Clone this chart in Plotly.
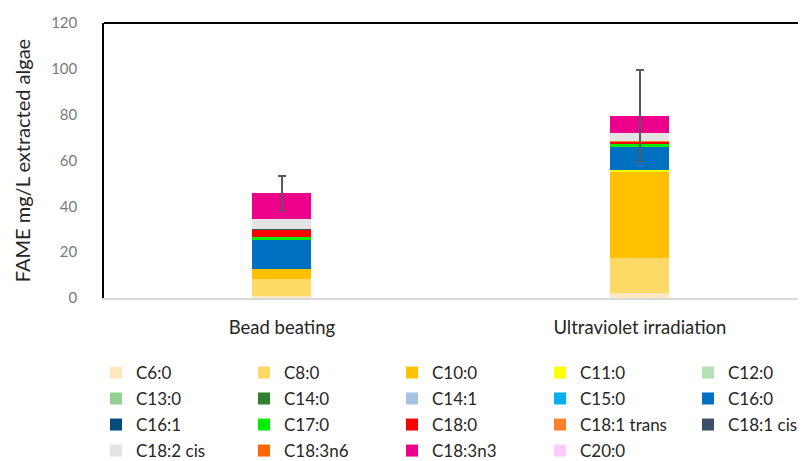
import plotly.graph_objects as go

categories = ["Bead beating", "Ultraviolet irradiation"]
fatty_acids = ["C6:0", "C8:0", "C10:0", "C11:0", "C12:0", "C13:0", "C14:0", "C14:1",
               "C15:0", "C16:0", "C16:1", "C17:0", "C18:0", "C18:1 trans", "C18:1 cis",
               "C18:2 cis", "C18:3n6", "C18:3n3", "C20:0"]
bead_beating = [0.8, 7.6, 4.1, 0.0, 0.0, 0.0, 0.0, 0.0,
                0.0, 12.8, 0.0, 1.5, 3.3, 0.0, 0.2,
                4.0, 0.0, 11.4, 0.0]
ultraviolet = [2.0, 15.4, 37.7, 0.9, 0.0, 0.0, 0.0, 0.0,
               0.0, 10.0, 0.0, 1.2, 1.0, 0.5, 0.0,
               3.5, 0.0, 7.3, 0.0]
total_error = [7.5, 20.0]
colors = ["#FFE8BF", "#FFD966", "#FFC000", "#FFFF00", "#B7DFB5", "#93D092", "#2F7F2F", "#A6C3E6",
          "#00B0F0", "#0070C0", "#034C7C", "#00F000", "#FF0000", "#FF7F2A", "#3B5069",
          "#E3E3E3", "#FF6600", "#EC008C", "#FFCCFF"]
y_ticks = [0, 20, 40, 60, 80, 100, 120]

FONT = "Lato"
legend_ids = ["legend", "legend2", "legend3", "legend4"]

fig = go.Figure()
for i, (name, col) in enumerate(zip(fatty_acids, colors)):
    vals = [bead_beating[i], ultraviolet[i]]
    kw = {}
    if name == "C18:3n3":
        kw["error_y"] = dict(type="data", array=total_error, visible=True,
                             color="#595959", thickness=1.6, width=4)
    fig.add_trace(go.Bar(x=categories, y=vals, name=name, marker_color=col,
                         marker_line_width=0, width=0.165,
                         legend=legend_ids[i // 5], **kw))

# page is offset by the browser's 8px body margin
row_y = [-0.2727, -0.367, -0.4618, -0.5564]
legend_common = dict(orientation="h", x=-0.0114, xanchor="left", yanchor="middle",
                     entrywidth=103, entrywidthmode="pixels",
                     font=dict(family=FONT, size=17, color="#262626"),
                     bgcolor="rgba(0,0,0,0)", traceorder="normal", itemclick=False)
legends = {lid: dict(y=ry, **legend_common) for lid, ry in zip(legend_ids, row_y)}

fig.update_layout(
    barmode="stack",
    width=798, height=453,
    margin=dict(l=96, r=0, t=15, b=163, autoexpand=False),
    paper_bgcolor="white", plot_bgcolor="white",
    font=dict(family=FONT, size=15, color="#262626"),
    showlegend=True,
    xaxis=dict(range=[-0.497, 1.464], showline=True, linecolor="#D9D9D9", linewidth=1.5,
               ticks="", tickfont=dict(family=FONT, size=18.5, color="#262626"),
               showgrid=False, zeroline=False, ticklabelstandoff=12),
    yaxis=dict(range=[0, 120], tickvals=y_ticks, showline=True, linecolor="#000000",
               linewidth=1.5, showgrid=False, zeroline=False, ticks="",
               ticklabelstandoff=22,
               tickfont=dict(family=FONT, size=15, color="#7A7A7A"),
               title=dict(text="FAME mg/L extracted algae",
                          font=dict(family=FONT, size=20, color="#262626"), standoff=15)),
    shapes=[dict(type="line", xref="paper", yref="paper", x0=0, x1=1, y0=1, y1=1,
                 line=dict(color="#000000", width=2))],
    **legends,
)

fig.write_html("out.html")
